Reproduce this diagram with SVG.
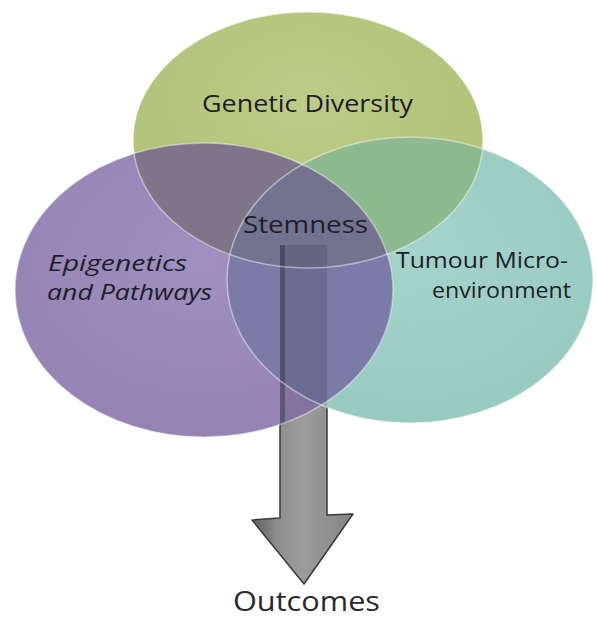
<svg xmlns="http://www.w3.org/2000/svg" width="597" height="619" viewBox="0 0 597 619">
  <defs>
    <style>
      .lbl { font-family: "Open Sans", "Liberation Sans", sans-serif; font-size: 23px; fill: #1e1e2a; }
      .two { font-size: 21px; }
      .ital { font-style: italic; }
      .edge { fill: none; stroke: #ffffff; stroke-opacity: 0.45; stroke-width: 1.5; }
    </style>
    <clipPath id="cG"><ellipse cx="308" cy="140" rx="175" ry="128"/></clipPath>
    <clipPath id="cP"><ellipse cx="204" cy="290" rx="189" ry="147"/></clipPath>
    <clipPath id="cT"><ellipse cx="410" cy="280" rx="183" ry="143"/></clipPath>
    <clipPath id="cAll">
      <ellipse cx="308" cy="140" rx="175" ry="128"/>
      <ellipse cx="204" cy="290" rx="189" ry="147"/>
      <ellipse cx="410" cy="280" rx="183" ry="143"/>
    </clipPath>
    <linearGradient id="arrowGrad" x1="0" y1="0" x2="1" y2="0">
      <stop offset="0" stop-color="#5e5e5e"/>
      <stop offset="0.25" stop-color="#8e8e8e"/>
      <stop offset="0.5" stop-color="#9c9c9c"/>
      <stop offset="1" stop-color="#858585"/>
    </linearGradient>
    <radialGradient id="gG" cx="0.5" cy="0.35" r="0.6">
      <stop offset="0" stop-color="#bccb86"/>
      <stop offset="1" stop-color="#b1c278"/>
    </radialGradient>
    <radialGradient id="gP" cx="0.5" cy="0.4" r="0.6">
      <stop offset="0" stop-color="#a090bf"/>
      <stop offset="1" stop-color="#9483b3"/>
    </radialGradient>
    <radialGradient id="gT" cx="0.5" cy="0.4" r="0.6">
      <stop offset="0" stop-color="#a5d3ca"/>
      <stop offset="1" stop-color="#98cac0"/>
    </radialGradient>
  </defs>

  <g id="connectors">
    <path d="M280,245 L327,245 L327,515 L353,514 L304,584 L252,520 L280,518 Z" fill="url(#arrowGrad)" stroke="#3a3a3a" stroke-width="1.5" stroke-linejoin="round"/>
  </g>

  <g id="tumour-microenvironment">
    <ellipse cx="410" cy="280" rx="183" ry="143" fill="url(#gT)"/>
    <text class="lbl two" x="568" y="268" text-anchor="end" textLength="172" lengthAdjust="spacingAndGlyphs">Tumour Micro-</text>
    <text class="lbl two" x="571" y="298" text-anchor="end" textLength="139" lengthAdjust="spacingAndGlyphs">environment</text>
  </g>

  <g id="genetic-diversity">
    <ellipse cx="308" cy="140" rx="175" ry="128" fill="url(#gG)"/>
    <text class="lbl" x="202" y="112" textLength="211" lengthAdjust="spacingAndGlyphs">Genetic Diversity</text>
  </g>

  <g id="epigenetics-pathways">
    <ellipse cx="204" cy="290" rx="189" ry="147" fill="url(#gP)"/>
    <text class="lbl two ital" x="48" y="271" textLength="139" lengthAdjust="spacingAndGlyphs">Epigenetics</text>
    <text class="lbl two ital" x="47" y="300" textLength="165" lengthAdjust="spacingAndGlyphs">and Pathways</text>
  </g>

  <g id="overlaps">
    <g clip-path="url(#cG)">
      <ellipse cx="204" cy="290" rx="189" ry="147" fill="#7e7688"/>
      <ellipse cx="410" cy="280" rx="183" ry="143" fill="#8db98e"/>
    </g>
    <g clip-path="url(#cP)">
      <ellipse cx="410" cy="280" rx="183" ry="143" fill="#7a7ba7"/>
    </g>
    <g clip-path="url(#cP)">
      <g clip-path="url(#cT)">
        <ellipse cx="308" cy="140" rx="175" ry="128" fill="#73738f"/>
      </g>
    </g>
    <g clip-path="url(#cAll)">
      <rect x="280" y="245" width="47" height="200" fill="#2a2640" fill-opacity="0.18"/>
      <rect x="280" y="245" width="5" height="200" fill="#1e1c30" fill-opacity="0.35"/>
    </g>
    <ellipse class="edge" cx="410" cy="280" rx="183" ry="143"/>
    <ellipse class="edge" cx="308" cy="140" rx="175" ry="128"/>
    <ellipse class="edge" cx="204" cy="290" rx="189" ry="147"/>
  </g>

  <g id="stemness">
    <text class="lbl" x="243" y="233" textLength="125" lengthAdjust="spacingAndGlyphs">Stemness</text>
  </g>

  <g id="outcomes">
    <text x="233" y="611" font-family="Open Sans, Liberation Sans, sans-serif" font-size="28" fill="#2a2a2a" textLength="147" lengthAdjust="spacingAndGlyphs">Outcomes</text>
  </g>
</svg>
